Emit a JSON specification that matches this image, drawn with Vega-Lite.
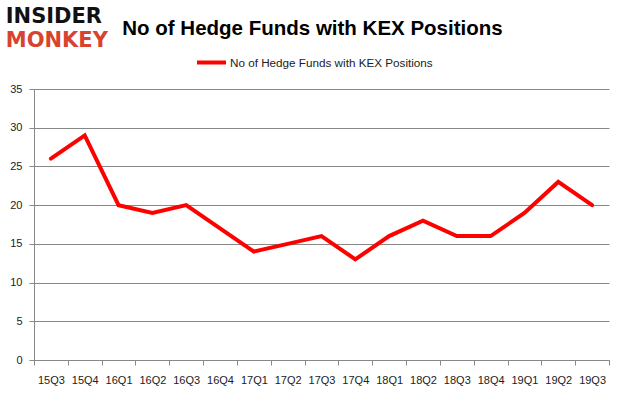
{
  "$schema": "https://vega.github.io/schema/vega-lite/v6.json",
  "background": "white",
  "padding": {"left": 5, "top": 6, "right": 15, "bottom": 12},
  "bounds": "flush",
  "spacing": 48,
  "config": {"view": {"stroke": null}},
  "vconcat": [
    {
      "width": 575,
      "height": 1,
      "data": {"values": []},
      "mark": {"type": "point", "opacity": 0},
      "title": {
        "text": "No of Hedge Funds with KEX Positions",
        "anchor": "middle",
        "frame": "group",
        "dx": -9,
        "offset": 1,
        "font": "Liberation Sans",
        "fontSize": 20.5,
        "fontWeight": "bold",
        "color": "#000000"
      }
    },
    {
      "width": 575,
      "height": 271,
      "title": {
        "text": "INSIDER",
        "subtitle": "MONKEY",
        "anchor": "start",
        "frame": "bounds",
        "dx": -4,
        "offset": 32,
        "font": "DejaVu Sans",
        "fontSize": 21,
        "fontWeight": "bold",
        "color": "#111111",
        "subtitleFont": "DejaVu Sans",
        "subtitleFontSize": 21,
        "subtitleFontWeight": "bold",
        "subtitleColor": "#D8432E",
        "subtitlePadding": 3
      },
      "data": {
        "values": [
          {"quarter": "15Q3", "funds": 26},
          {"quarter": "15Q4", "funds": 29},
          {"quarter": "16Q1", "funds": 20},
          {"quarter": "16Q2", "funds": 19},
          {"quarter": "16Q3", "funds": 20},
          {"quarter": "16Q4", "funds": 17},
          {"quarter": "17Q1", "funds": 14},
          {"quarter": "17Q2", "funds": 15},
          {"quarter": "17Q3", "funds": 16},
          {"quarter": "17Q4", "funds": 13},
          {"quarter": "18Q1", "funds": 16},
          {"quarter": "18Q2", "funds": 18},
          {"quarter": "18Q3", "funds": 16},
          {"quarter": "18Q4", "funds": 16},
          {"quarter": "19Q1", "funds": 19},
          {"quarter": "19Q2", "funds": 23},
          {"quarter": "19Q3", "funds": 20}
        ]
      },
      "mark": {"type": "line", "strokeWidth": 4, "strokeCap": "round", "strokeJoin": "miter"},
      "encoding": {
        "x": {
          "field": "quarter",
          "type": "ordinal",
          "sort": null,
          "scale": {"type": "band", "paddingInner": 0, "paddingOuter": 0},
          "axis": {
            "title": null,
            "labelAngle": 0,
            "labelFont": "Liberation Sans",
            "labelFontSize": 11,
            "labelColor": "#222222",
            "labelPadding": 9,
            "tickBand": "extent",
            "tickSize": 5,
            "tickColor": "#888888",
            "domainColor": "#888888",
            "grid": false
          }
        },
        "y": {
          "field": "funds",
          "type": "quantitative",
          "scale": {"domain": [0, 35], "nice": false},
          "axis": {
            "title": null,
            "values": [0, 5, 10, 15, 20, 25, 30, 35],
            "labelFont": "Liberation Sans",
            "labelFontSize": 11,
            "labelColor": "#222222",
            "labelPadding": 7,
            "tickSize": 5,
            "tickColor": "#888888",
            "domainColor": "#888888",
            "grid": true,
            "gridColor": "#888888"
          }
        },
        "color": {
          "datum": "No of Hedge Funds with KEX Positions",
          "type": "nominal",
          "scale": {"range": ["#FF0000"]},
          "legend": {
            "title": null,
            "orient": "none",
            "legendX": 161,
            "legendY": 6,
            "padding": 0,
            "symbolType": "stroke",
            "symbolStrokeWidth": 4,
            "symbolSize": 841,
            "labelFont": "Liberation Sans",
            "labelFontSize": 11.7,
            "labelColor": "#222222",
            "labelOffset": 2,
            "labelLimit": 400
          }
        }
      }
    }
  ]
}
